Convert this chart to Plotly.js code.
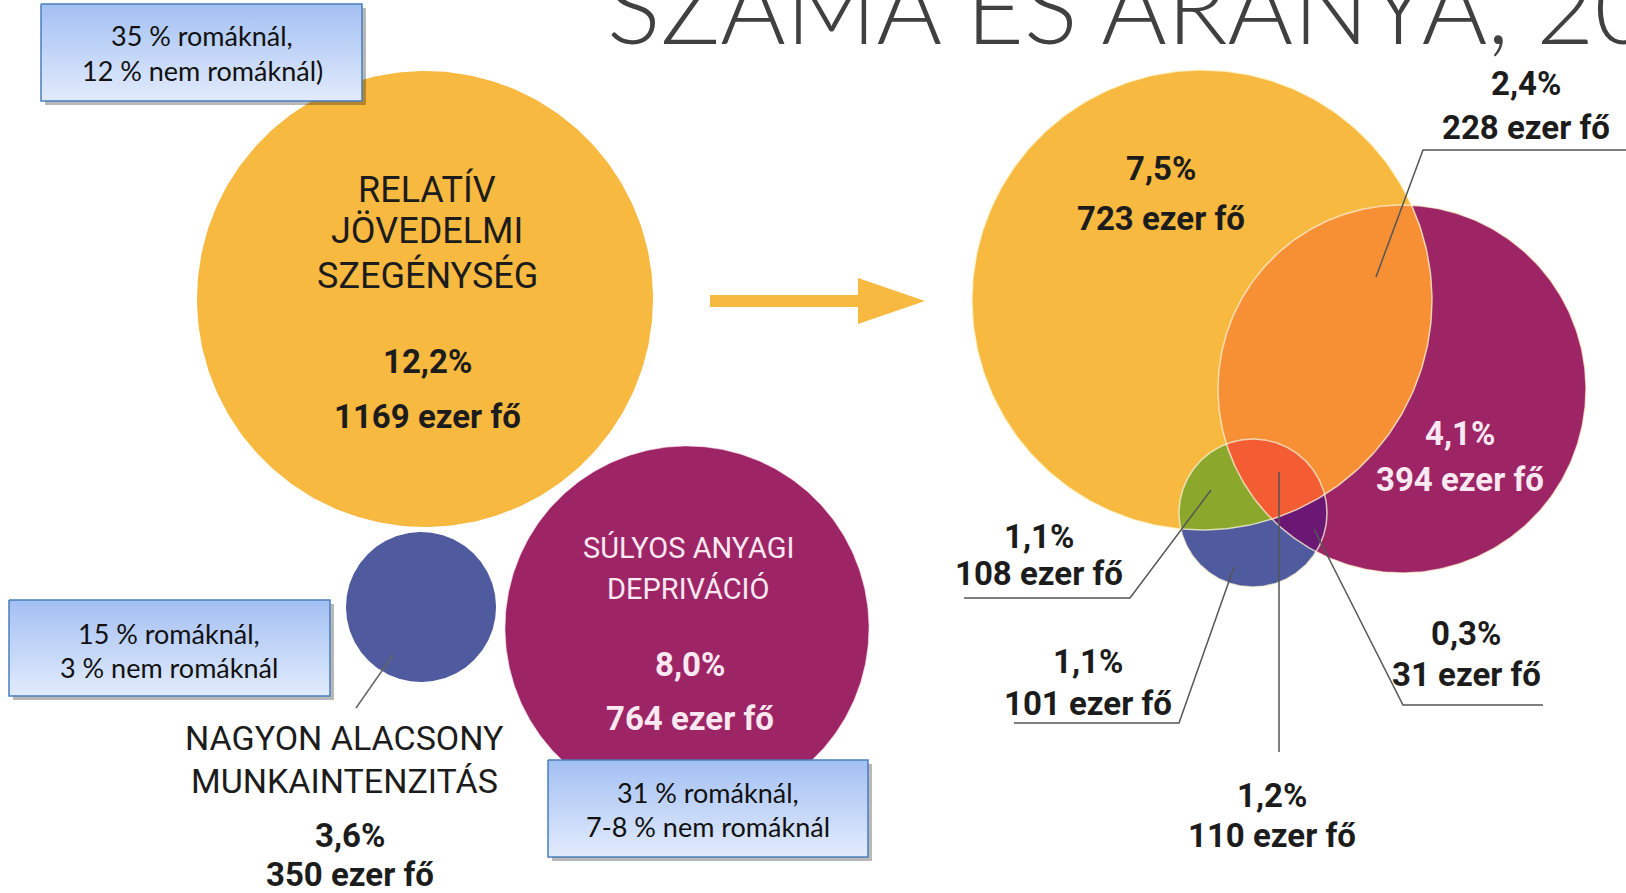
<!DOCTYPE html>
<html><head><meta charset="utf-8">
<script src="https://cdn.plot.ly/plotly-3.0.1.min.js"></script>
<style>html,body{margin:0;padding:0;background:#fff;overflow:hidden}</style>
</head><body><div id="chart" style="width:1626px;height:893px"></div>
<script>
// ---------------- DATA ----------------
const titleText = 'SZÁMA ÉS ARÁNYA, 20';
const leftCategories = [['RELATÍV', 'JÖVEDELMI', 'SZEGÉNYSÉG'], ['SÚLYOS ANYAGI', 'DEPRIVÁCIÓ'], ['NAGYON ALACSONY', 'MUNKAINTENZITÁS']];
const leftPercent = [12.2, 8.0, 3.6];
const leftThousands = [1169, 764, 350];
const romaShare = ['35', '31', '15'];
const nonRomaShare = ['12', '7-8', '3'];
const boxSuffix = [')', '', ''];
const rightRegions = ['only_income', 'income_depr', 'only_depr', 'income_work', 'only_work', 'all_three', 'depr_work'];
const rightPercent = [7.5, 2.4, 4.1, 1.1, 1.1, 1.2, 0.3];
const rightThousands = [723, 228, 394, 108, 101, 110, 31];

// ---------------- GEOMETRY / STYLE ----------------
const COL = {yellow:'#F7B940', purple:'#9D2566', blue:'#4F5B9E', orange:'#F78F35', green:'#8BA82C', red:'#F45D33', dpurple:'#6B1874'};
const L = {Y:{cx:425,cy:299,r:228}, P:{cx:687,cy:628,r:182}, B:{cx:421,cy:607,r:75}};
const R = {Y:{cx:1202,cy:300,r:230}, P:{cx:1402,cy:389,r:184}, B:{cx:1253,cy:513,r:74}};
const NARROW = 'Roboto, "Liberation Sans", sans-serif';
const BOXFONT = 'Lato, "Open Sans", sans-serif';

function fmtPct(v){ return v.toFixed(1).replace('.', ',') + '%'; }
function fmtK(v){ return v + ' ezer fő'; }

function circlePts(c, n){ n = n||360; const xs=[], ys=[]; for(let k=0;k<=n;k++){ const a=2*Math.PI*k/n; xs.push(c.cx+c.r*Math.cos(a)); ys.push(c.cy+c.r*Math.sin(a)); } return {x:xs,y:ys}; }
function interPts(cs){
  let pts=[];
  cs.forEach((c,i)=>{ for(let k=0;k<1440;k++){ const a=2*Math.PI*k/1440; const p=[c.cx+c.r*Math.cos(a), c.cy+c.r*Math.sin(a)];
    if(cs.every((d,j)=> j===i || Math.hypot(p[0]-d.cx,p[1]-d.cy) <= d.r+0.01)) pts.push(p); } });
  const mx = pts.reduce((s,p)=>s+p[0],0)/pts.length, my = pts.reduce((s,p)=>s+p[1],0)/pts.length;
  pts.sort((a,b)=>Math.atan2(a[1]-my,a[0]-mx)-Math.atan2(b[1]-my,b[0]-mx));
  pts.push(pts[0]);
  return {x:pts.map(p=>p[0]), y:pts.map(p=>p[1])};
}
function fillTrace(p, color, lineColor, lw){ return {type:'scatter', mode:'lines', x:p.x, y:p.y, fill:'toself', fillcolor:color, line:{color:lineColor||color, width:lw||0}, hoverinfo:'skip'}; }
function lineTrace(xs, ys, color, w){ return {type:'scatter', mode:'lines', x:xs, y:ys, line:{color:color, width:w}, hoverinfo:'skip'}; }

const traces = [];
// left circles
traces.push(fillTrace(circlePts(L.Y), COL.yellow));
traces.push(fillTrace(circlePts(L.B), COL.blue));
traces.push(fillTrace(circlePts(L.P), COL.purple, 'rgba(255,220,235,0.6)', 1));
// leader line of left blue
traces.push(lineTrace([393,356],[655,708],'#666',1.5));
// arrow
traces.push(lineTrace([710,860],[301,301],COL.yellow,12));
traces.push(fillTrace({x:[858,925,858,858], y:[278,301,324,278]}, COL.yellow));
// right venn
traces.push(fillTrace(circlePts(R.Y), COL.yellow));
traces.push(fillTrace(circlePts(R.P), COL.purple));
traces.push(fillTrace(interPts([R.Y,R.P]), COL.orange));
traces.push(fillTrace(circlePts(R.B), COL.blue));
traces.push(fillTrace(interPts([R.Y,R.B]), COL.green));
traces.push(fillTrace(interPts([R.P,R.B]), COL.dpurple));
traces.push(fillTrace(interPts([R.Y,R.P,R.B]), COL.red));
// pale outlines
[R.Y,R.P,R.B].forEach(c=>{ const p=circlePts(c); traces.push(lineTrace(p.x,p.y,'rgba(255,248,215,0.75)',1.5)); });
// right leader lines
const leaderColor = '#555';
traces.push(lineTrace([1376,1423,1626],[277,150,150],leaderColor,1.5));
traces.push(lineTrace([1211,1130,964],[490,598,598],leaderColor,1.5));
traces.push(lineTrace([1234,1179,1014],[567,723,723],leaderColor,1.5));
traces.push(lineTrace([1279,1279],[472,752],leaderColor,1.5));
traces.push(lineTrace([1314,1403,1543],[529,705,705],leaderColor,1.5));

// text boxes
const boxes = [{x0:41,x1:362,y0:4,y1:101}, {x0:548,x1:868,y0:760,y1:857}, {x0:9,x1:330,y0:600,y1:696}];
boxes.forEach(b=>{
  traces.push(fillTrace({x:[b.x0+4,b.x1+4,b.x1+4,b.x0+4,b.x0+4], y:[b.y0+4,b.y0+4,b.y1+4,b.y1+4,b.y0+4]}, 'rgba(0,0,0,0.28)'));
  traces.push({type:'scatter', mode:'lines', x:[b.x0,b.x1,b.x1,b.x0,b.x0], y:[b.y0,b.y0,b.y1,b.y1,b.y0], fill:'toself',
    fillgradient:{type:'vertical', colorscale:[[0,'#e2ebfc'],[1,'#a3c0f3']]}, line:{color:'#4a7ebb', width:1.5}, hoverinfo:'skip'});
});

// ---------------- ANNOTATIONS ----------------
const ann = [];
function lab(x,y,text,size,color,bold,family){ ann.push({x:x,y:y,xref:'x',yref:'y',text:text,showarrow:false,xanchor:'center',yanchor:'middle',
  font:{family:family||NARROW,size:size,color:color,weight:bold?700:400}}); }
const DARK = '#1c1c1c', LIGHT = '#fbe8f1';
const NUM = 33;
// title
ann.push({x:605,y:67,xref:'x',yref:'y',text:titleText,showarrow:false,xanchor:'left',yanchor:'bottom',font:{family:'Lato, "Open Sans", sans-serif',size:100,color:'#404040',weight:300}});
// left yellow
const yl=[189,231,275]; leftCategories[0].forEach((t,i)=>lab(427,yl[i],t,36,DARK,false));
lab(427,361,fmtPct(leftPercent[0]),NUM,DARK,true); lab(427,416,fmtK(leftThousands[0]),NUM,DARK,true);
// left purple
const pl=[548,589]; leftCategories[1].forEach((t,i)=>lab(688,pl[i],t,29,LIGHT,false));
lab(690,664,fmtPct(leftPercent[1]),NUM,LIGHT,true); lab(690,718,fmtK(leftThousands[1]),NUM,LIGHT,true);
// left blue
const bl=[738,781]; leftCategories[2].forEach((t,i)=>lab(344,bl[i],t,34,DARK,false));
lab(350,835,fmtPct(leftPercent[2]),NUM,DARK,true); lab(350,874,fmtK(leftThousands[2]),NUM,DARK,true);
// boxes text
const boxText = [[202,35,70],[708,792,826],[169,633,667]];
boxText.forEach((b,i)=>{ lab(b[0],b[1],romaShare[i]+' % romáknál,',27,'#111',false,BOXFONT); lab(b[0],b[2],nonRomaShare[i]+' % nem romáknál'+boxSuffix[i],27,'#111',false,BOXFONT); });
// right labels
const rpos = [[1161,168,218,DARK],[1526,83,127,DARK],[1460,433,479,LIGHT],[1039,536,573,DARK],[1088,661,703,DARK],[1272,795,835,DARK],[1466,633,674,DARK]];
rpos.forEach((p,i)=>{ lab(p[0],p[1],fmtPct(rightPercent[i]),NUM,p[3],true); lab(p[0],p[2],fmtK(rightThousands[i]),NUM,p[3],true); });

const layout = {width:1626, height:893, margin:{l:0,r:0,t:0,b:0}, paper_bgcolor:'#fff', plot_bgcolor:'#fff', showlegend:false,
  xaxis:{range:[0,1626], visible:false, fixedrange:true}, yaxis:{range:[893,0], visible:false, fixedrange:true},
  annotations:ann};
Plotly.newPlot('chart', traces, layout, {displayModeBar:false, staticPlot:true});
</script></body></html>
